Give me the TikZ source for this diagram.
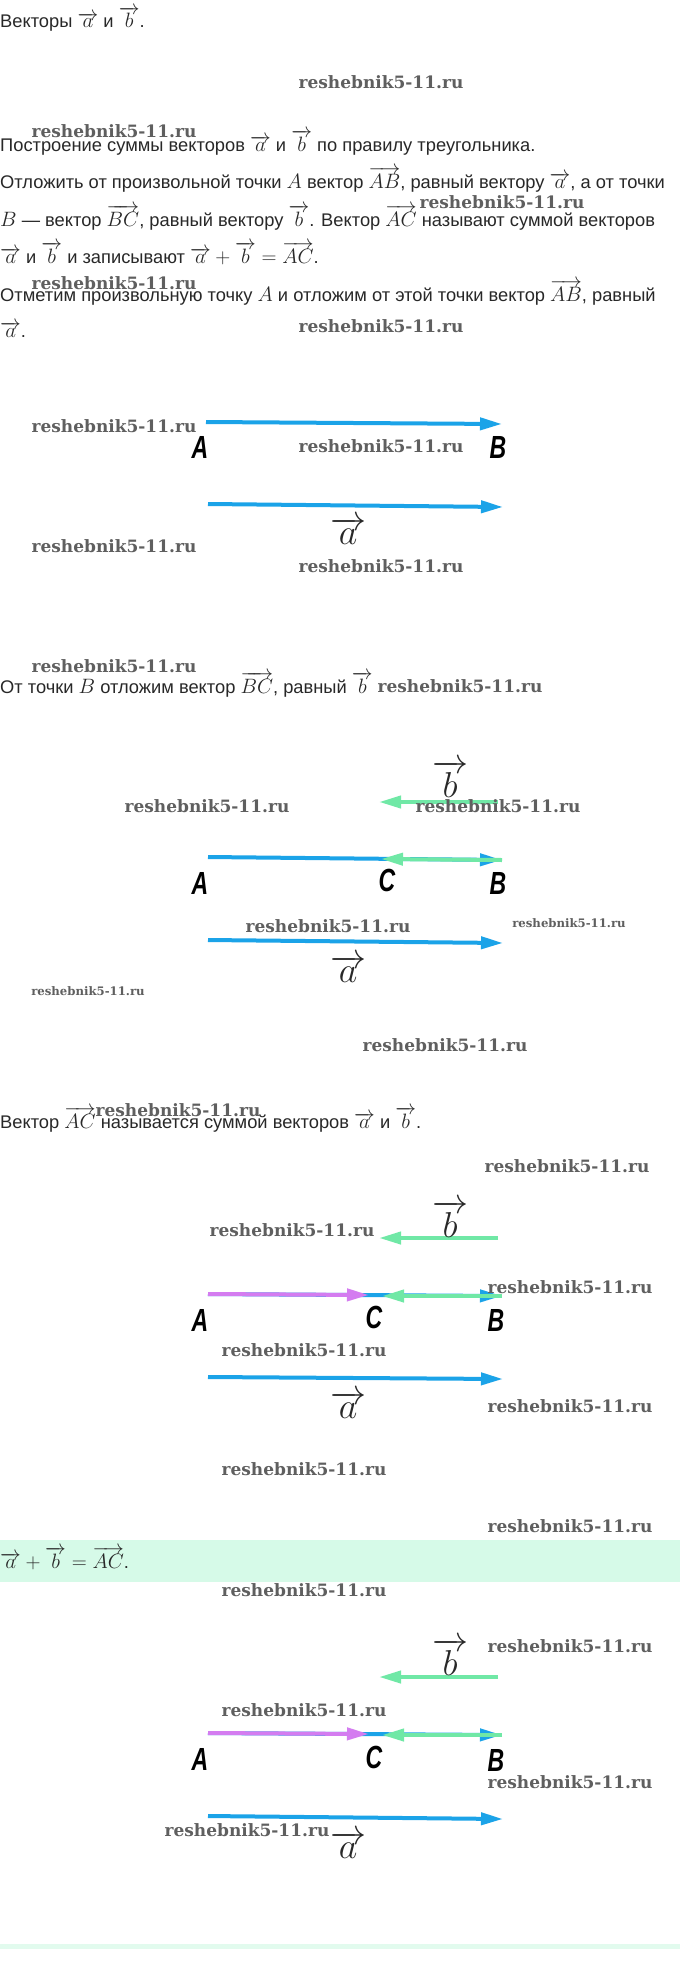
\RequirePackage{fix-cm}
\documentclass[tikz,border=0pt]{standalone}
\usepackage{fontspec}
\setmainfont{Liberation Sans}
\newfontfamily\wmfont{DejaVu Serif}
\newfontfamily\lblfont{Liberation Sans}
\usetikzlibrary{arrows.meta}
\definecolor{txt}{RGB}{40,40,40}
\definecolor{vblue}{RGB}{27,163,232}
\definecolor{vgreen}{RGB}{112,232,166}
\definecolor{vpurple}{RGB}{212,124,240}
\definecolor{band}{RGB}{214,250,232}
\definecolor{bandb}{RGB}{226,251,238}
\definecolor{wmgray}{RGB}{95,95,95}
\newcommand\mth[1]{{\fontsize{20.8}{22}\selectfont$#1$}}
\newcommand\va{\overrightarrow{a}}
\newcommand\vb{\overrightarrow{b}}
\newcommand\vlbl[1]{\overrightarrow{\makebox[0.78em]{$#1$}}}
\tikzset{
  wm/.style={font=\wmfont\bfseries\fontsize{17}{17}\selectfont, text=wmgray, inner sep=0pt},
  wms/.style={font=\wmfont\bfseries\fontsize{11.7}{12}\selectfont, text=wmgray, inner sep=0pt},
  para/.style={anchor=base west, inner sep=0pt, font=\fontsize{18.3}{20}\selectfont, text=txt},
  ptlbl/.style={font=\lblfont\bfseries\itshape\fontsize{32}{32}\selectfont, inner sep=0pt},
  veclbl/.style={font=\fontsize{36}{36}\selectfont, inner sep=0pt, text=txt},
  vec/.style={line width=4pt, -{Triangle[length=22pt,width=12pt]}},
}
\newcommand\PL[1]{\scalebox{0.72}[1]{#1}}
\begin{document}
\begin{tikzpicture}[x=1pt,y=-1pt]
\useasboundingbox (0,0) rectangle (680,1983);
\fill[white] (0,0) rectangle (680,1983);
% bands
\fill[band] (0,1540) rectangle (680,1582);
\fill[bandb] (0,1944) rectangle (680,1949);

% ---- texts
\node[para] (t1) at (0,28) {Векторы \mth{\va} и \mth{\vb}.};
\node[para] (t2) at (0,151) {Построение суммы векторов \mth{\va} и \mth{\vb} по правилу треугольника.};
\node[para] (t3a) at (0,188) {Отложить от произвольной точки \mth{A} вектор \mth{\overrightarrow{AB}}, равный вектору \mth{\va}, а от точки};
\node[para] (t3b) at (0,226) {\mth{B} — вектор \mth{\overrightarrow{BC}}, равный вектору \mth{\vb}. Вектор \mth{\overrightarrow{AC}} называют суммой векторов};
\node[para] (t3c) at (0,263) {\mth{\va} и \mth{\vb} и записывают \mth{\va+\vb=\overrightarrow{AC}}.};
\node[para] (t4a) at (0,301) {Отметим произвольную точку \mth{A} и отложим от этой точки вектор \mth{\overrightarrow{AB}}, равный};
\node[para] (t4b) at (0,337) {\mth{\va}.};
\node[para] (t5) at (0,693) {От точки \mth{B} отложим вектор \mth{\overrightarrow{BC}}, равный \mth{\vb}};
\node[para] (t6) at (0,1128) {Вектор \mth{\overrightarrow{AC}} называется суммой векторов \mth{\va} и \mth{\vb}.};
\node[para] (t7) at (0,1568) {\mth{\va+\vb=\overrightarrow{AC}}.};

% ---- section 2
\coordinate (A1) at (206,422); \coordinate (B1) at (502,424);
\draw[vec, vblue] (A1) -- (B1);
\node[ptlbl] (lA1) at (200,447) {\PL{A}};
\node[ptlbl] (lB1) at (498,447) {\PL{B}};
\coordinate (a1s) at (208,504); \coordinate (a1e) at (503,507);
\draw[vec, vblue] (a1s) -- (a1e);
\node[veclbl] (la1) at (348,531) {$\vlbl{a}$};

% ---- section 3
\coordinate (b2s) at (498,802); \coordinate (b2e) at (379,802);
\draw[vec, vgreen] (b2s) -- (b2e);
\node[veclbl] (lb2) at (450,779) {$\vlbl{b}$};
\coordinate (A2) at (208,857); \coordinate (B2) at (502,860); \coordinate (C2) at (381,859);
\draw[vec, vblue] (A2) -- (B2);
\draw[vec, vgreen] (B2) -- (C2);
\node[ptlbl] (lA2) at (200,883) {\PL{A}};
\node[ptlbl] (lC2) at (387,880) {\PL{C}};
\node[ptlbl] (lB2) at (498,883) {\PL{B}};
\coordinate (a2s) at (208,940); \coordinate (a2e) at (503,943);
\draw[vec, vblue] (a2s) -- (a2e);
\node[veclbl] (la2) at (348,969) {$\vlbl{a}$};

% ---- section 4
\coordinate (b3s) at (498,1238); \coordinate (b3e) at (379,1238);
\draw[vec, vgreen] (b3s) -- (b3e);
\node[veclbl] (lb3) at (450,1219) {$\vlbl{b}$};
\coordinate (A3) at (208,1294); \coordinate (B3) at (502,1296);
\coordinate (C3p) at (369,1295); \coordinate (C3g) at (382,1296);
\draw[vec, vblue] (A3) -- (B3);
\draw[vec, vpurple] (A3) -- (C3p);
\draw[vec, vgreen] (B3) -- (C3g);
\node[ptlbl] (lA3) at (200,1320) {\PL{A}};
\node[ptlbl] (lC3) at (374,1317) {\PL{C}};
\node[ptlbl] (lB3) at (496,1320) {\PL{B}};
\coordinate (a3s) at (208,1377); \coordinate (a3e) at (503,1379);
\draw[vec, vblue] (a3s) -- (a3e);
\node[veclbl] (la3) at (348,1405) {$\vlbl{a}$};

% ---- section 5
\coordinate (b4s) at (498,1677); \coordinate (b4e) at (379,1677);
\draw[vec, vgreen] (b4s) -- (b4e);
\node[veclbl] (lb4) at (450,1657) {$\vlbl{b}$};
\coordinate (A4) at (208,1733); \coordinate (B4) at (502,1735);
\coordinate (C4p) at (369,1734); \coordinate (C4g) at (382,1735);
\draw[vec, vblue] (A4) -- (B4);
\draw[vec, vpurple] (A4) -- (C4p);
\draw[vec, vgreen] (B4) -- (C4g);
\node[ptlbl] (lA4) at (200,1759) {\PL{A}};
\node[ptlbl] (lC4) at (374,1757) {\PL{C}};
\node[ptlbl] (lB4) at (496,1760) {\PL{B}};
\coordinate (a4s) at (208,1816); \coordinate (a4e) at (503,1819);
\draw[vec, vblue] (a4s) -- (a4e);
\node[veclbl] (la4) at (348,1845) {$\vlbl{a}$};

% ---- watermarks
\foreach \x/\y [count=\i] in {381/82,114/131,502/202,114/283,381/326,114/426,381/446,114/546,381/566,114/666,
  460/686,207/806,498/806,328/926,445/1045,178/1110,567/1166,292/1230,570/1287,304/1350,570/1406,304/1469,
  570/1526,304/1590,570/1646,304/1710,570/1782,247/1830}
  \node[wm] (w\i) at (\x,\y) {reshebnik5-11.ru};
\node[wms] (ws1) at (569,923) {reshebnik5-11.ru};
\node[wms] (ws2) at (88,991) {reshebnik5-11.ru};
\end{tikzpicture}
\end{document}
